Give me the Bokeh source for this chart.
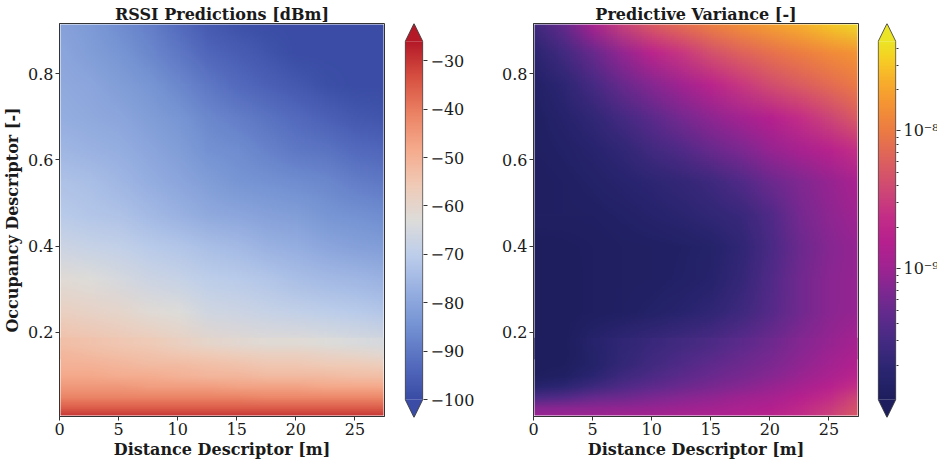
import zlib
import struct
import base64
import numpy as np
from bokeh.plotting import figure
from bokeh.models import Range1d, LinearColorMapper, LinearAxis, FixedTicker, CustomJSTickFormatter
from bokeh.layouts import row
from bokeh.embed import file_html
from bokeh.resources import INLINE

# ---------------- data ----------------
x_centers = [0.0, 2.5, 5.0, 7.5, 10.0, 12.5, 15.0, 17.5, 20.0, 22.5, 25.0, 27.5]
# coarser upper band, rows listed top -> bottom
y_high_centers = [0.925, 0.85, 0.775, 0.7, 0.625, 0.55, 0.475, 0.4, 0.325, 0.25, 0.175]
# finely sampled bottom band, rows listed top -> bottom
y_low_centers = [0.175, 0.15, 0.125, 0.1, 0.075, 0.05, 0.025, 0.0]

rssi_high = [
    [-81, -83, -86, -89, -93, -97, -99, -100, -100, -100, -100, -100],
    [-80, -82, -84, -87, -90, -94, -96, -98, -100, -100, -100, -100],
    [-79, -80, -82, -84, -87, -90, -93, -95, -97, -99, -100, -100],
    [-78, -79, -80, -82, -84, -87, -89, -91, -93, -95, -97, -98],
    [-76, -77, -78, -80, -82, -85, -86, -88, -90, -91, -93, -94],
    [-73, -74, -76, -78, -80, -82, -84, -85, -86, -87, -89, -90],
    [-71, -72, -73, -75, -77, -79, -80, -81, -82, -84, -85, -86],
    [-67, -68, -69, -71, -72, -74, -75, -77, -78, -80, -81, -82],
    [-62, -63, -65, -67, -68, -70, -71, -72, -74, -75, -76, -77],
    [-58, -59, -60, -62, -63, -66, -67, -68, -69, -70, -71, -72],
    [-53, -54, -55, -56, -58, -60, -61, -62, -62, -63, -64, -65],
]
rssi_low = [
    [-53, -54, -55, -56, -58, -60, -61, -62, -62, -63, -64, -65],
    [-51, -52, -53, -54, -55, -56, -57, -58, -58, -59, -60, -61],
    [-50, -50, -51, -52, -52, -53, -54, -55, -55, -56, -56, -57],
    [-48, -48, -49, -49, -50, -51, -51, -52, -52, -52, -53, -53],
    [-45, -45, -45, -46, -46, -46, -47, -47, -47, -48, -48, -48],
    [-41, -41, -41, -41, -41, -41, -41, -42, -42, -42, -42, -42],
    [-35, -35, -35, -35, -35, -35, -35, -35, -35, -35, -35, -35],
    [-28, -28, -28, -28, -28, -28, -28, -28, -28, -28, -28, -28],
]

# log10 of predictive variance
var_high = [
    [-9.55, -9.30, -8.85, -8.45, -8.20, -8.05, -7.92, -7.80, -7.70, -7.60, -7.48, -7.36],
    [-9.75, -9.55, -9.30, -9.05, -8.75, -8.55, -8.35, -8.20, -8.08, -7.98, -7.88, -7.80],
    [-9.85, -9.72, -9.52, -9.30, -9.12, -8.98, -8.75, -8.55, -8.38, -8.25, -8.12, -8.00],
    [-9.90, -9.80, -9.68, -9.53, -9.38, -9.22, -9.08, -8.96, -8.82, -8.62, -8.45, -8.25],
    [-9.90, -9.85, -9.78, -9.68, -9.55, -9.45, -9.30, -9.17, -9.04, -8.92, -8.78, -8.60],
    [-9.92, -9.88, -9.84, -9.78, -9.72, -9.66, -9.58, -9.45, -9.28, -9.15, -9.04, -8.90],
    [-9.90, -9.90, -9.88, -9.85, -9.80, -9.75, -9.68, -9.62, -9.45, -9.22, -9.08, -8.98],
    [-9.95, -9.94, -9.92, -9.90, -9.88, -9.86, -9.82, -9.70, -9.50, -9.28, -9.12, -9.04],
    [-9.97, -9.95, -9.92, -9.90, -9.88, -9.85, -9.80, -9.65, -9.45, -9.25, -9.10, -9.04],
    [-9.98, -9.96, -9.92, -9.88, -9.84, -9.78, -9.70, -9.58, -9.42, -9.25, -9.10, -9.03],
    [-9.98, -9.95, -9.80, -9.70, -9.62, -9.55, -9.48, -9.38, -9.27, -9.13, -9.04, -8.93],
]
var_low = [
    [-9.98, -9.95, -9.80, -9.70, -9.62, -9.55, -9.48, -9.38, -9.27, -9.13, -9.04, -8.93],
    [-9.98, -9.95, -9.82, -9.68, -9.58, -9.50, -9.42, -9.32, -9.22, -9.10, -9.00, -8.88],
    [-9.96, -9.93, -9.82, -9.66, -9.55, -9.45, -9.35, -9.27, -9.18, -9.07, -8.96, -8.83],
    [-9.93, -9.88, -9.74, -9.58, -9.48, -9.38, -9.29, -9.21, -9.12, -9.02, -8.90, -8.75],
    [-9.80, -9.72, -9.58, -9.46, -9.36, -9.28, -9.20, -9.12, -9.04, -8.94, -8.80, -8.60],
    [-9.50, -9.44, -9.32, -9.27, -9.19, -9.12, -9.07, -9.00, -8.94, -8.82, -8.65, -8.42],
    [-9.12, -9.10, -9.08, -9.06, -9.04, -9.00, -8.96, -8.90, -8.83, -8.70, -8.53, -8.32],
    [-8.98, -8.97, -8.96, -8.94, -8.92, -8.90, -8.86, -8.82, -8.76, -8.65, -8.48, -8.25],
]

rssi_limits = [-100.0, -26.0]
var_limits = [-9.95, -7.35]          # log10 scale
rssi_ticks = [-100, -90, -80, -70, -60, -50, -40, -30]
var_ticks = [-9, -8]
x_ticks = [0, 5, 10, 15, 20, 25]
y_ticks = [0.2, 0.4, 0.6, 0.8]
x_limits = [0.0, 27.5]
y_limits = [0.005, 0.916]

# colormap anchors (position, rgb)
coolwarm_anchors = [
    (0.0, (58, 76, 165)), (0.1, (85, 108, 190)), (0.2, (115, 145, 210)),
    (0.3, (150, 175, 225)), (0.4, (188, 205, 235)), (0.5, (221, 220, 218)),
    (0.6, (240, 202, 182)), (0.7, (245, 170, 140)), (0.8, (235, 130, 100)),
    (0.9, (215, 80, 65)), (1.0, (180, 25, 40)),
]
plasma_anchors = [
    (0.0, (30, 30, 94)), (0.034, (34, 33, 102)), (0.090, (45, 38, 115)),
    (0.160, (68, 42, 130)), (0.230, (95, 42, 140)), (0.300, (125, 40, 145)),
    (0.370, (160, 35, 145)), (0.440, (182, 32, 142)), (0.510, (195, 45, 135)),
    (0.580, (205, 70, 118)), (0.664, (220, 95, 95)), (0.748, (235, 122, 68)),
    (0.832, (245, 150, 50)), (0.902, (248, 180, 42)), (0.958, (245, 210, 35)),
    (1.0, (236, 228, 38)),
]


def make_palette(anchors, n=256):
    pos = [a[0] for a in anchors]
    t = np.linspace(0, 1, n)
    chans = [np.interp(t, pos, [a[1][c] for a in anchors]) for c in range(3)]
    return ["#%02x%02x%02x" % (int(round(r)), int(round(g)), int(round(b)))
            for r, g, b in zip(*chans)]


coolwarm = make_palette(coolwarm_anchors)
plasma = make_palette(plasma_anchors)


def to_png_url(rows, palette, limits):
    """Colour-map a grid of values (rows top->bottom) into a small PNG data URL."""
    lo, hi = limits
    n = len(palette)
    rgb = [tuple(int(c[i:i + 2], 16) for i in (1, 3, 5)) for c in palette]
    raw = b""
    for r in rows:
        line = bytearray([0])
        for v in r:
            k = int(round((v - lo) / (hi - lo) * (n - 1)))
            k = min(max(k, 0), n - 1)
            line.extend(rgb[k])
        raw += bytes(line)
    h, w = len(rows), len(rows[0])

    def chunk(tag, data):
        return (struct.pack(">I", len(data)) + tag + data +
                struct.pack(">I", zlib.crc32(tag + data) & 0xffffffff))

    png = (b"\x89PNG\r\n\x1a\n" +
           chunk(b"IHDR", struct.pack(">IIBBBBB", w, h, 8, 2, 0, 0, 0)) +
           chunk(b"IDAT", zlib.compress(raw)) + chunk(b"IEND", b""))
    return "data:image/png;base64," + base64.b64encode(png).decode()


FONT = "DejaVu Serif"
TXT = "#1a1a1a"


def heatmap(title, low_rows, high_rows, palette, limits, left_border, ylabel):
    p = figure(frame_width=325, frame_height=393,
               x_range=Range1d(*x_limits), y_range=Range1d(*y_limits),
               min_border_left=left_border, min_border_right=11,
               min_border_top=23, min_border_bottom=47,
               toolbar_location=None, output_backend="svg")
    dx = x_centers[1] - x_centers[0]
    # upper band first, finely sampled bottom band drawn over it
    for centers, rows in ((y_high_centers, high_rows), (y_low_centers, low_rows)):
        dy = centers[0] - centers[1]
        p.image_url(url=[to_png_url(rows, palette, limits)],
                    x=x_centers[0] - dx / 2, y=centers[0] + dy / 2,
                    w=dx * len(x_centers), h=dy * len(centers), anchor="top_left")
    p.title.text = title
    p.title.text_font = FONT
    p.title.text_font_style = "bold"
    p.title.text_font_size = "16px"
    p.title.text_color = TXT
    p.title.align = "center"
    p.title.standoff = 0
    p.xaxis.ticker = FixedTicker(ticks=x_ticks)
    p.yaxis.ticker = FixedTicker(ticks=y_ticks)
    p.xaxis.axis_label = "Distance Descriptor [m]"
    if ylabel:
        p.yaxis.axis_label = ylabel
    for ax in (p.xaxis, p.yaxis):
        ax.major_label_text_font = FONT
        ax.major_label_text_font_size = "16px"
        ax.major_label_text_color = TXT
        ax.axis_label_text_font = FONT
        ax.axis_label_text_font_style = "bold"
        ax.axis_label_text_font_size = "16px"
        ax.axis_label_text_color = TXT
        ax.major_tick_out = 4
        ax.major_tick_in = 0
        ax.minor_tick_line_color = None
        ax.major_tick_line_color = "#333333"
        ax.axis_line_color = "#333333"
        ax.major_label_standoff = 2
    p.xaxis.axis_label_standoff = 2
    p.yaxis.axis_label_standoff = 3
    p.outline_line_color = "#333333"
    p.outline_line_width = 1
    p.grid.visible = False
    p.background_fill_color = "white"
    return p


def colorbar(palette, limits, ticks, minor, formatter, left_border, right_border):
    lo, hi = limits
    ext = 0.05 * (hi - lo)
    c = figure(frame_width=19, frame_height=394,
               x_range=Range1d(-0.04, 1.04), y_range=Range1d(lo - ext, hi + ext),
               min_border_left=left_border, min_border_right=right_border,
               min_border_top=22, min_border_bottom=47,
               x_axis_type=None, y_axis_type=None,
               toolbar_location=None, output_backend="svg")
    mapper = LinearColorMapper(palette=palette, low=lo, high=hi)
    grad = np.linspace(lo, hi, 256).reshape(256, 1)
    c.image(image=[grad], x=0, y=lo, dw=1, dh=hi - lo, color_mapper=mapper)
    c.patch([0, 1, 0.5], [hi, hi, hi + ext], fill_color=palette[-1], line_color=None)
    c.patch([0, 1, 0.5], [lo, lo, lo - ext], fill_color=palette[0], line_color=None)
    c.patch([0, 0.5, 1, 1, 0.5, 0], [lo, lo - ext, lo, hi, hi + ext, hi],
            fill_color=None, line_color="#333333", line_width=0.8)
    ax = LinearAxis(ticker=FixedTicker(ticks=ticks, minor_ticks=minor), formatter=formatter)
    ax.major_label_text_font = FONT
    ax.major_label_text_font_size = "16px"
    ax.major_label_text_color = TXT
    ax.major_tick_out = 4
    ax.major_tick_in = 0
    ax.minor_tick_out = 2
    ax.minor_tick_in = 0
    ax.major_tick_line_color = "#333333"
    ax.minor_tick_line_color = "#333333" if minor else None
    ax.axis_line_color = None
    ax.major_label_standoff = 3
    c.add_layout(ax, "right")
    c.outline_line_color = None
    c.grid.visible = False
    return c


minus_fmt = CustomJSTickFormatter(code="""
    return tick < 0 ? '\\u2212' + Math.abs(tick) : '' + tick;
""")
pow_fmt = CustomJSTickFormatter(code="""
    const sup = {'-': '\\u207b', '0': '\\u2070', '1': '\\u00b9', '2': '\\u00b2', '3': '\\u00b3',
                 '4': '\\u2074', '5': '\\u2075', '6': '\\u2076', '7': '\\u2077', '8': '\\u2078', '9': '\\u2079'};
    const s = String(Math.round(tick));
    let out = '10';
    for (const ch of s) { out += sup[ch]; }
    return out;
""")

var_minor = []
for e in (-10, -9, -8):
    for k in range(2, 10):
        v = e + np.log10(k)
        if var_limits[0] <= v <= var_limits[1]:
            var_minor.append(float(v))

p1 = heatmap("RSSI Predictions [dBm]", rssi_low, rssi_high, coolwarm, rssi_limits, 59,
             "Occupancy Descriptor [-]")
c1 = colorbar(coolwarm, rssi_limits, rssi_ticks, [], minus_fmt, 9, 50)
p2 = heatmap("Predictive Variance [-]", var_low, var_high, plasma, var_limits, 56, None)
c2 = colorbar(plasma, var_limits, var_ticks, var_minor, pow_fmt, 8, 45)

layout = row(p1, c1, p2, c2)
open("out.html", "w").write(file_html(layout, INLINE))
